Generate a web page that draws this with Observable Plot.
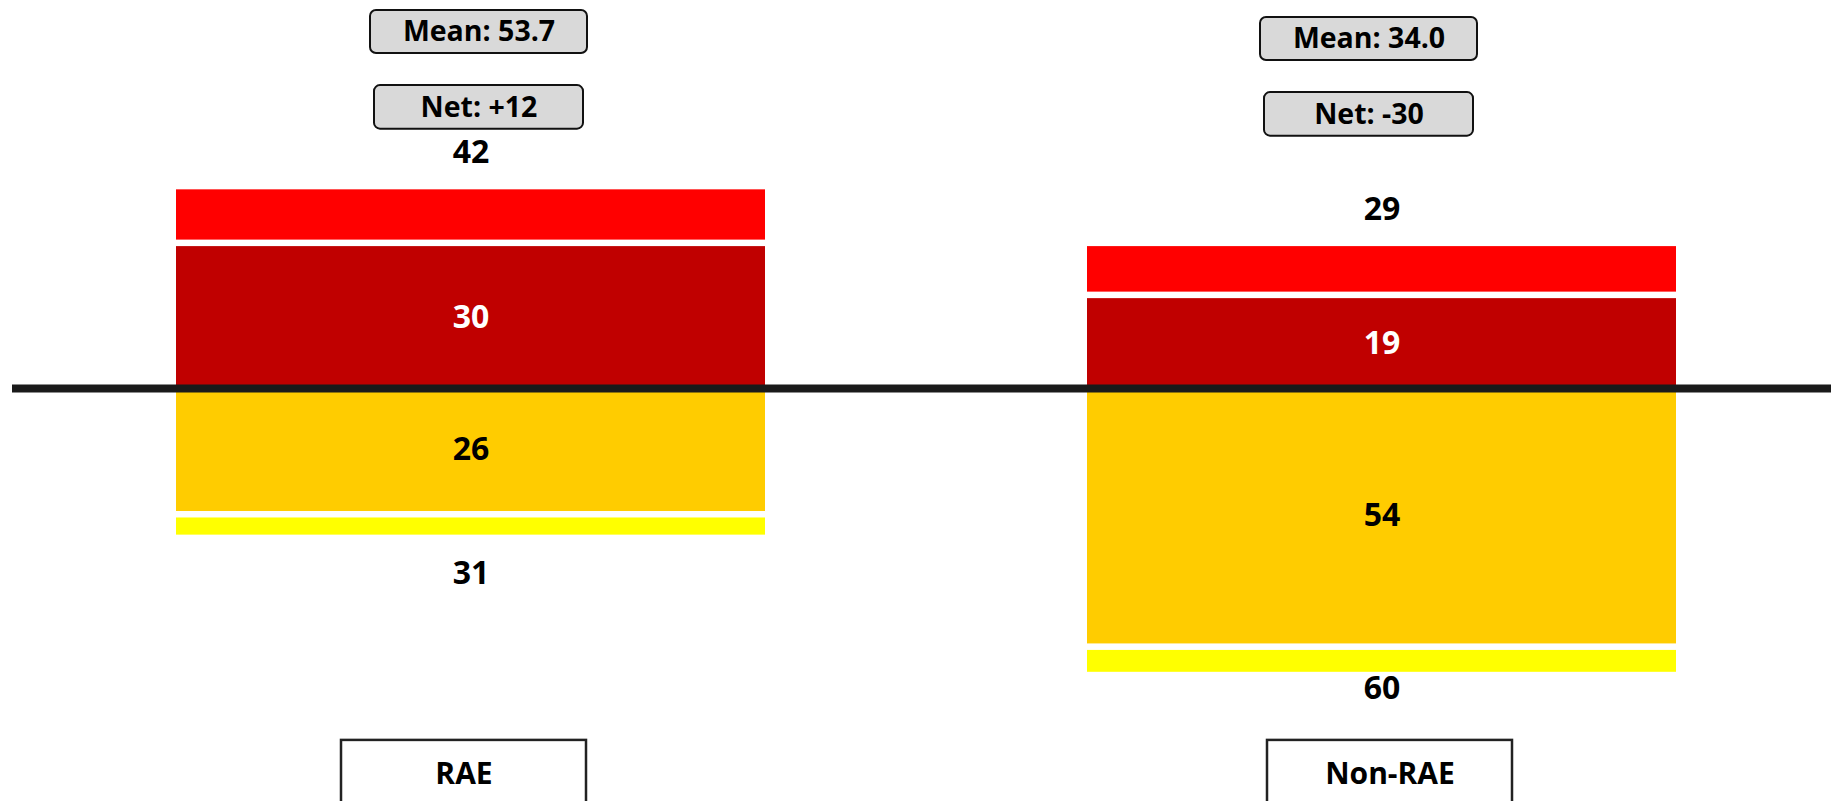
<!DOCTYPE html>
<html>
<head>
<meta charset="utf-8">
<script src="https://cdn.jsdelivr.net/npm/d3@7"></script>
<script src="https://cdn.jsdelivr.net/npm/@observablehq/plot@0.6"></script>
<style>
  html, body { margin: 0; padding: 0; background: #fff; }
  svg { display: block; }
</style>
</head>
<body>
<div id="chart"></div>
<script>
// ---- data ----
const groups = ["RAE", "Non-RAE"];
const posInner = [30, 19];      // dark red
const posOuter = [12, 11];      // red
const negInner = [26, 54];      // gold
const negOuter = [5, 6];        // yellow
const posTotals = [42, 29];
const negTotals = [31, 60];
const means = ["53.7", "34.0"];
const nets = ["+12", "-30"];

// ---- derived tables ----
const segs = groups.flatMap((g, i) => [
  {group: g, kind: "posInner", y1: 0, y2: posInner[i], label: posInner[i]},
  {group: g, kind: "posOuter", y1: posInner[i], y2: posInner[i] + posOuter[i]},
  {group: g, kind: "negInner", y1: 0, y2: -negInner[i], label: negInner[i]},
  {group: g, kind: "negOuter", y1: -negInner[i], y2: -(negInner[i] + negOuter[i])}
]);
const colors = {posInner: "#C00000", posOuter: "#FF0000", negInner: "#FFCC00", negOuter: "#FFFF00"};
const totalsTop = groups.map((g, i) => ({group: g, v: posInner[i] + posOuter[i], label: posTotals[i]}));
const totalsBottom = groups.map((g, i) => ({group: g, v: -(negInner[i] + negOuter[i]), label: negTotals[i]}));

// ---- layout (pixel nudges for the annotation boxes) ----
const zeroY = 388, pxPerUnit = 4.73;
const font = "'Open Sans', 'DejaVu Sans', sans-serif";
const statShift = {"RAE": {dx: 8, dy: -3}, "Non-RAE": {dx: -13, dy: 4}};
const catShift = {"RAE": -7, "Non-RAE": 8};

const statMarks = groups.flatMap((g, i) => {
  const {dx, dy} = statShift[g];
  const row = [g];
  return [
    Plot.barY(row, {x: d => d, y1: 70.2, y2: 79.3, fill: "#D9D9D9", stroke: "#111", strokeWidth: 2, rx: 6,
      insetLeft: 186 + dx, insetRight: 186 - dx, insetTop: dy, insetBottom: -dy}),
    Plot.text(row, {x: d => d, y: 74.75, dx, dy, text: () => `Mean: ${means[i]}`, fontSize: 28.5, fontWeight: "bold", fill: "#000"}),
    Plot.barY(row, {x: d => d, y1: 54.2, y2: 63.4, fill: "#D9D9D9", stroke: "#111", strokeWidth: 2, rx: 6,
      insetLeft: 190 + dx, insetRight: 190 - dx, insetTop: dy, insetBottom: -dy}),
    Plot.text(row, {x: d => d, y: 58.8, dx, dy, text: () => `Net: ${nets[i]}`, fontSize: 28.5, fontWeight: "bold", fill: "#000"})
  ];
});

const catMarks = groups.flatMap((g) => {
  const dx = catShift[g];
  const row = [g];
  return [
    Plot.barY(row, {x: d => d, y1: -74.4, y2: -95, fill: "#fff", stroke: "#222", strokeWidth: 2.5,
      insetLeft: 172 + dx, insetRight: 172 - dx}),
    Plot.text(row, {x: d => d, y: -81.6, dx, text: d => d, fontSize: 30, fontWeight: "bold", fill: "#000"})
  ];
});

const chart = Plot.plot({
  width: 1831,
  height: 801,
  margin: 0,
  style: {fontFamily: font, background: "#fff"},
  x: {type: "band", domain: groups, range: [175, 1677], paddingInner: 0.353, paddingOuter: 0, axis: null},
  y: {domain: [-80, 80], range: [zeroY + 80 * pxPerUnit, zeroY - 80 * pxPerUnit], axis: null},
  marks: [
    // inner segments
    Plot.barY(segs.filter(d => d.kind === "posInner" || d.kind === "negInner"),
      {x: "group", y1: "y1", y2: "y2", fill: d => colors[d.kind]}),
    // outer positive segment, gap below
    Plot.barY(segs.filter(d => d.kind === "posOuter"),
      {x: "group", y1: "y1", y2: "y2", fill: d => colors[d.kind], insetBottom: 6.5}),
    // outer negative segment, gap above
    Plot.barY(segs.filter(d => d.kind === "negOuter"),
      {x: "group", y1: "y1", y2: "y2", fill: d => colors[d.kind], insetTop: 6.5}),
    // zero line
    Plot.ruleY([0], {stroke: "#1a1a1a", strokeWidth: 8, insetLeft: 12}),
    // inner labels
    Plot.text(segs.filter(d => d.label != null), {
      x: "group", y: d => (d.y1 + d.y2) / 2, text: d => String(d.label),
      fill: d => d.kind === "posInner" ? "#fff" : "#000",
      fontSize: 32, fontWeight: "bold"
    }),
    // total labels
    Plot.text(totalsTop, {x: "group", y: d => d.v + 7.8, text: d => String(d.label), fontSize: 32, fontWeight: "bold", fill: "#000"}),
    Plot.text(totalsBottom, {x: "group", y: d => Math.max(d.v - 8.2, -63.4), text: d => String(d.label), fontSize: 32, fontWeight: "bold", fill: "#000"}),
    ...statMarks,
    ...catMarks
  ]
});
document.getElementById("chart").appendChild(chart);
</script>
</body>
</html>
